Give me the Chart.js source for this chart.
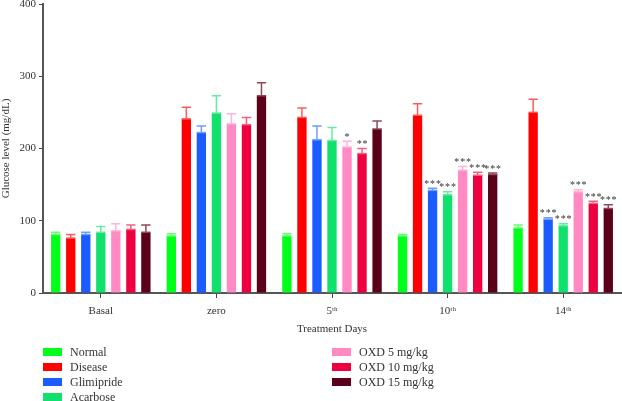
<!DOCTYPE html>
<html><head><meta charset="utf-8">
<script src="https://cdn.jsdelivr.net/npm/chart.js@4/dist/chart.umd.min.js"></script>
<style>
html,body{margin:0;padding:0;background:#fff;}
#wrap{position:relative;width:622px;height:401px;}
canvas{position:absolute;left:0;top:0;}
.lg{position:absolute;font-family:"Liberation Serif","DejaVu Serif",serif;font-size:12px;color:#333;line-height:14px;white-space:nowrap;}
.lg span.box{display:inline-block;width:19px;height:8px;vertical-align:middle;margin-right:8px;position:relative;top:-1px;}
</style></head>
<body><div id="wrap"><canvas id="c" width="622" height="401"></canvas><div id="legend"></div></div>
<script>
const categories = ["Basal", "zero", "5\u1D57\u02B0", "10\u1D57\u02B0", "14\u1D57\u02B0"];
const seriesNames = ["Normal", "Disease", "Glimipride", "Acarbose", "OXD 5 mg/kg", "OXD 10 mg/kg", "OXD 15 mg/kg"];
const normal      = [81, 79, 79, 79, 90];
const disease     = [76, 241, 243, 246, 250];
const glimipride  = [81, 222, 212, 142, 102];
const acarbose    = [84, 249, 211, 136, 93];
const oxd5        = [86, 234, 202, 170, 140];
const oxd10       = [88, 233, 193, 163, 124];
const oxd15       = [84, 273, 227, 164, 117];
const normalErr     = [3, 3, 3, 2, 4];
const diseaseErr    = [5, 16, 13, 16, 18];
const glimiprideErr = [3, 9, 19, 3, 2];
const acarboseErr   = [8, 24, 18, 4, 3];
const oxd5Err       = [10, 14, 8, 5, 3];
const oxd10Err      = [6, 10, 7, 4, 3];
const oxd15Err      = [10, 18, 11, 2, 5];
const normalSig     = ["", "", "", "", ""];
const diseaseSig    = ["", "", "", "", ""];
const glimiprideSig = ["", "", "", "***", "***"];
const acarboseSig   = ["", "", "", "***", "***"];
const oxd5Sig       = ["", "", "*", "***", "***"];
const oxd10Sig      = ["", "", "**", "***", "***"];
const oxd15Sig      = ["", "", "", "***", "***"];
const yTicks = [0, 100, 200, 300, 400];

const colors = ["#00FF1A", "#FF0000", "#1A5CFF", "#10E06C", "#FF8AC4", "#EE0040", "#5A0018"];
const errColors = ["#66FF70", "#FF5A5A", "#6F9BFF", "#66EBA3", "#FFB3D8", "#F2607F", "#8C4A58"];
const values = [normal, disease, glimipride, acarbose, oxd5, oxd10, oxd15];
const errs = [normalErr, diseaseErr, glimiprideErr, acarboseErr, oxd5Err, oxd10Err, oxd15Err];
const sigs = [normalSig, diseaseSig, glimiprideSig, acarboseSig, oxd5Sig, oxd10Sig, oxd15Sig];

const serif = "'Liberation Serif','DejaVu Serif',serif";

const errPlugin = {
  id: 'errbars',
  afterDatasetsDraw(chart) {
    const ctx = chart.ctx;
    const ys = chart.scales.y;
    chart.data.datasets.forEach((ds, i) => {
      const meta = chart.getDatasetMeta(i);
      meta.data.forEach((bar, j) => {
        const v = ds.data[j], e = errs[i][j];
        const yTop = ys.getPixelForValue(v + e);
        const half = bar.width / 2;
        ctx.save();
        ctx.strokeStyle = errColors[i];
        ctx.lineWidth = 1.5;
        ctx.beginPath();
        ctx.moveTo(bar.x, bar.y);
        ctx.lineTo(bar.x, yTop);
        ctx.moveTo(bar.x - half, yTop);
        ctx.lineTo(bar.x + half, yTop);
        ctx.stroke();
        ctx.beginPath();
        ctx.moveTo(bar.x - half, bar.y);
        ctx.lineTo(bar.x + half, bar.y);
        ctx.stroke();
        const s = sigs[i][j];
        if (s) {
          ctx.fillStyle = '#333';
          ctx.font = "10px " + serif;
          ctx.textAlign = 'center';
          ctx.textBaseline = 'bottom';
          const txt = s.split('').join('\u200A');
          ctx.fillText(txt, bar.x, yTop + 1);
        }
        ctx.restore();
      });
    });
  }
};

const chart = new Chart(document.getElementById('c'), {
  type: 'bar',
  data: {
    labels: categories,
    datasets: seriesNames.map((n, i) => ({
      label: n,
      data: values[i],
      backgroundColor: colors[i],
      borderWidth: 0,
      categoryPercentage: 0.91,
      barPercentage: 0.62
    }))
  },
  options: {
    responsive: false,
    animation: false,
    layout: { padding: { left: 0, right: 1, top: 4, bottom: 63 } },
    plugins: { legend: { display: false }, tooltip: { enabled: false } },
    scales: {
      x: {
        afterFit: s => { s.height = 45; },
        grid: { display: true, drawOnChartArea: false, drawTicks: true, tickLength: 5, offset: false, color: '#444', lineWidth: 1 },
        border: { display: true, color: '#555', width: 2 },
        ticks: { color: '#333', font: { family: serif, size: 11 }, padding: 7 },
        title: { display: true, text: 'Treatment Days', color: '#333', font: { family: serif, size: 11 }, padding: { top: 0, bottom: 2 } }
      },
      y: {
        min: 0, max: 400,
        afterFit: s => { s.width = 43; s.paddingTop = 0; s.paddingBottom = 0; },
        afterBuildTicks: s => { s.ticks = yTicks.map(v => ({ value: v })); },
        grid: { display: true, drawOnChartArea: false, drawTicks: true, tickLength: 4, color: '#444', lineWidth: 1 },
        border: { display: true, color: '#555', width: 2 },
        ticks: { color: '#333', font: { family: serif, size: 11 }, padding: 3 },
        title: { display: true, text: 'Glucose level (mg/dL)', color: '#333', font: { family: serif, size: 11 }, padding: { top: 0, bottom: 0 } }
      }
    }
  },
  plugins: [errPlugin]
});

const lg = document.getElementById('legend');
const leftX = 43, rightX = 332, rowY = [345, 360, 375, 390];
seriesNames.forEach((n, i) => {
  const d = document.createElement('div');
  d.className = 'lg';
  const col = i < 4 ? 0 : 1;
  const row = i < 4 ? i : i - 4;
  d.style.left = (col ? rightX : leftX) + 'px';
  d.style.top = rowY[row] + 'px';
  d.innerHTML = '<span class="box" style="background:' + colors[i] + '"></span>' + n;
  lg.appendChild(d);
});
</script></body></html>
